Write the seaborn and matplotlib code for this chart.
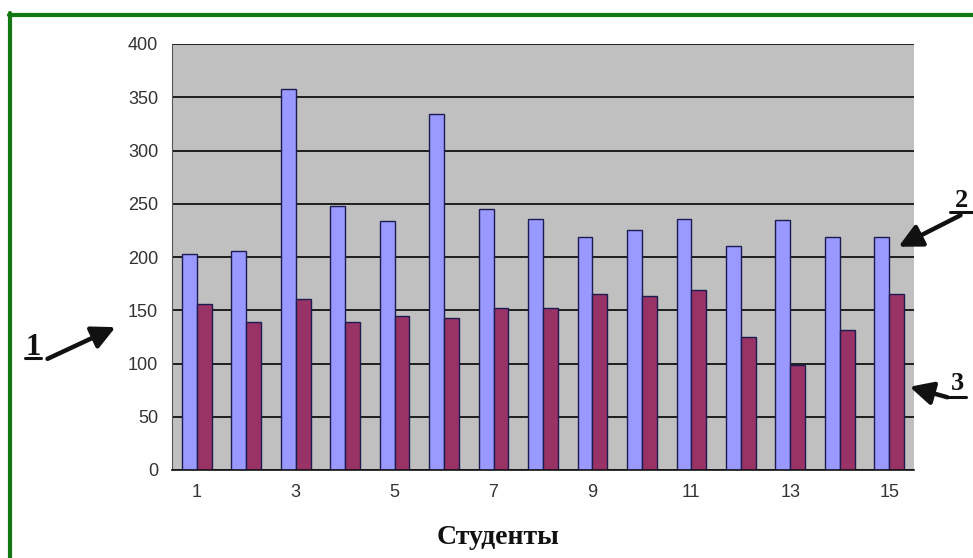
import numpy as np
import pandas as pd
import matplotlib
matplotlib.use("Agg")
import matplotlib.pyplot as plt
from matplotlib.lines import Line2D
from matplotlib.patches import FancyArrowPatch
import seaborn as sns

# ---------------------------- data ----------------------------
students = list(range(1, 16))
series_blue = [203, 206, 358, 248, 234, 334, 245, 236, 219, 225, 236, 210, 235, 219, 219]
series_red = [156, 139, 161, 139, 145, 143, 152, 152, 165, 163, 169, 125, 99, 131, 165]
tick_labels = ["1", "3", "5", "7", "9", "11", "13", "15"]

df = pd.DataFrame({
    "student": students * 2,
    "value": series_blue + series_red,
    "series": ["a"] * 15 + ["b"] * 15,
})

sns.set_style("white")
plt.rcParams["font.family"] = ["Liberation Sans", "DejaVu Sans"]
SERIF = ["Liberation Serif", "DejaVu Serif"]

W, H = 973, 558
fig = plt.figure(figsize=(W / 100, H / 100), dpi=100)
fig.patch.set_facecolor("white")
ax = fig.add_axes([172 / W, 1 - 470 / H, 742 / W, 426 / H])

sns.barplot(data=df, x="student", y="value", hue="series",
            palette=["#9999FF", "#993366"], width=0.6, gap=0,
            edgecolor="#1c1c50", linewidth=1.0, saturation=1,
            legend=False, ax=ax)

ax.set_facecolor("#C0C0C0")
ax.set_ylim(0, 400)
ax.set_xlim(-0.5, 14.5)
ax.set_yticks(np.arange(0, 401, 50))
ax.yaxis.grid(True, color="#111111", linewidth=1.3)
ax.set_axisbelow(True)

# x labels only on odd students, tick marks between categories
ax.set_xticks(np.arange(0, 15, 2))
ax.set_xticklabels(tick_labels)
ax.set_xticks(np.arange(-0.5, 15, 1), minor=True)
ax.tick_params(axis="x", which="major", length=0, labelsize=13,
               labelcolor="#333333", pad=10)
ax.tick_params(axis="x", which="minor", length=5, width=1, color="#222222",
               direction="out")
ax.tick_params(axis="y", length=5, width=1, color="#444444", direction="out",
               labelsize=13, labelcolor="#333333", pad=5)

for side in ["top", "right"]:
    ax.spines[side].set_visible(False)
ax.spines["left"].set_color("#555555")
ax.spines["bottom"].set_color("#111111")
ax.spines["bottom"].set_linewidth(1.2)

ax.set_xlabel("")
ax.set_ylabel("")
fig.text(498 / W, 1 - 537 / H, "Студенты", family=SERIF, fontsize=20,
         fontweight="bold", color="#111111", ha="center", va="center")

# green frame (top and left edges visible in the crop)
fig.add_artist(Line2D([9 / W, 1.0], [1 - 14.5 / H, 1 - 14.5 / H],
                      color="#127812", linewidth=3, transform=fig.transFigure))
fig.add_artist(Line2D([9.5 / W, 9.5 / W], [0, 1 - 13 / H],
                      color="#127812", linewidth=3, transform=fig.transFigure))

# numbered callouts with arrows
def callout(label, lx, ly, size, ux0, ux1, uy, ax0, ay0, ax1, ay1):
    fig.text(lx / W, 1 - ly / H, label, family=SERIF, fontsize=size,
             fontweight="bold", color="#111111", ha="center", va="baseline")
    fig.add_artist(Line2D([ux0 / W, ux1 / W], [1 - uy / H, 1 - uy / H],
                          color="#111111", linewidth=2.2, transform=fig.transFigure))
    fig.add_artist(FancyArrowPatch(
        (ax0 / W, 1 - ay0 / H), (ax1 / W, 1 - ay1 / H), transform=fig.transFigure,
        arrowstyle="-|>,head_length=7,head_width=3.5", color="#111111",
        linewidth=3.2, mutation_scale=2))

callout("1", 33, 355, 22, 25, 41, 358, 45, 360, 118, 326)
callout("2", 961, 207, 19, 950, 972, 212, 963, 214, 896, 248)
callout("3", 957, 390, 19, 946, 966, 397, 950, 398, 907, 386)

fig.savefig("out.png", dpi=100)
